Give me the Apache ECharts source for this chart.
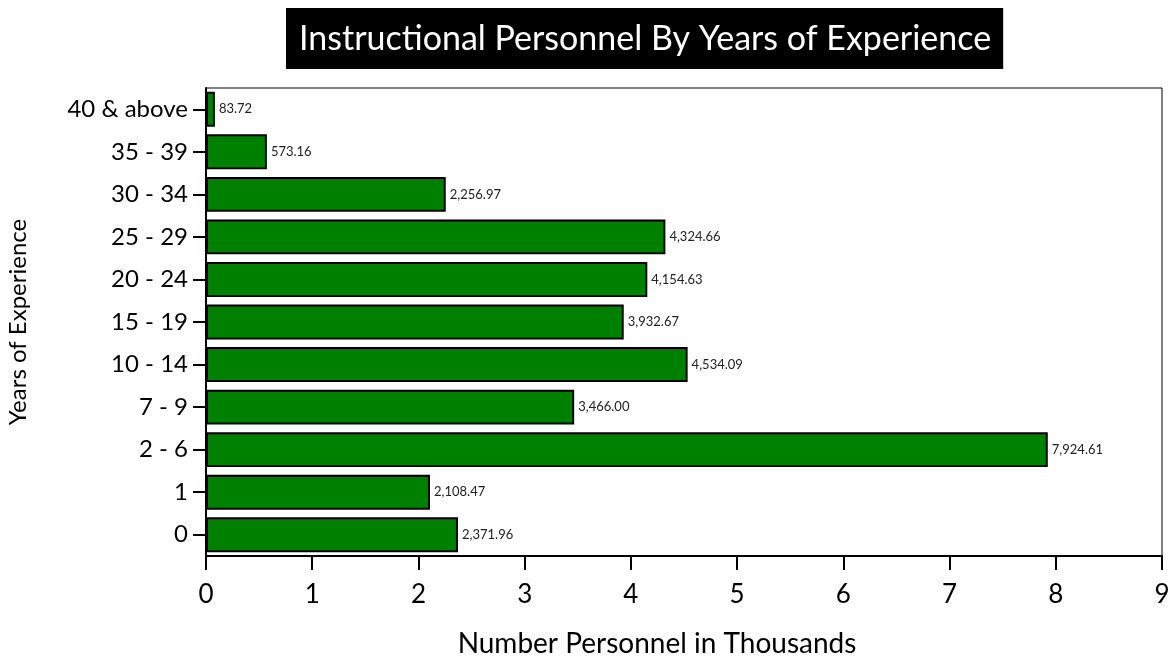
<!DOCTYPE html>
<html>
<head>
<meta charset="utf-8">
<script src="https://cdn.jsdelivr.net/npm/echarts@6/dist/echarts.min.js"></script>
<style>
  html, body { margin: 0; padding: 0; background: #fff; }
  #chart { width: 1171px; height: 660px; }
</style>
</head>
<body>
<div id="chart"></div>
<script>
const categories = ['0', '1', '2 - 6', '7 - 9', '10 - 14', '15 - 19', '20 - 24', '25 - 29', '30 - 34', '35 - 39', '40 & above'];
const personnel = [2371.96, 2108.47, 7924.61, 3466.00, 4534.09, 3932.67, 4154.63, 4324.66, 2256.97, 573.16, 83.72];
const xTicks = [0, 1, 2, 3, 4, 5, 6, 7, 8, 9];

const font = 'Lato, "Open Sans", sans-serif';

const chart = echarts.init(document.getElementById('chart'), null, { renderer: 'canvas' });

chart.setOption({
  animation: false,
  title: {
    text: 'Instructional Personnel By Years of Experience',
    left: 286,
    top: 8,
    backgroundColor: '#000',
    padding: [11, 12, 10, 13],
    textStyle: { color: '#fff', fontFamily: font, fontSize: 34, fontWeight: 'normal', lineHeight: 40 }
  },
  grid: {
    left: 206, right: 9, top: 88, bottom: 104,
    containLabel: false,
    outerBoundsMode: 'none',
    show: true, borderColor: '#000', borderWidth: 1, backgroundColor: '#fff'
  },
  xAxis: {
    type: 'value',
    min: xTicks[0],
    max: xTicks[xTicks.length - 1],
    interval: 1,
    name: 'Number Personnel in Thousands',
    nameLocation: 'middle',
    nameGap: 74,
    nameTextStyle: { color: '#000', fontFamily: font, fontSize: 28, padding: [0, 54, 0, 0] },
    axisLine: { show: true, lineStyle: { color: '#000', width: 2 } },
    axisTick: { show: true, length: 14, lineStyle: { color: '#000', width: 2 } },
    axisLabel: { color: '#000', fontFamily: font, fontSize: 26, margin: 26 },
    splitLine: { show: false }
  },
  yAxis: {
    type: 'category',
    data: categories,
    name: 'Years of Experience',
    nameLocation: 'middle',
    nameGap: 176,
    nameTextStyle: { color: '#000', fontFamily: font, fontSize: 24 },
    axisLine: { show: true, lineStyle: { color: '#000', width: 2 } },
    axisTick: { show: true, alignWithLabel: true, length: 13, lineStyle: { color: '#000', width: 2 } },
    axisLabel: { color: '#000', fontFamily: font, fontSize: 24, margin: 18 },
    splitLine: { show: false }
  },
  series: [{
    type: 'bar',
    data: personnel.map(v => v / 1000),
    barCategoryGap: '18%',
    itemStyle: { color: '#008000', borderColor: '#000', borderWidth: 2 },
    label: {
      show: true,
      position: 'right',
      distance: 4,
      color: '#222',
      fontFamily: font,
      fontSize: 13,
      formatter: p => personnel[p.dataIndex].toLocaleString('en-US', { minimumFractionDigits: 2, maximumFractionDigits: 2 })
    }
  }]
});
</script>
</body>
</html>
